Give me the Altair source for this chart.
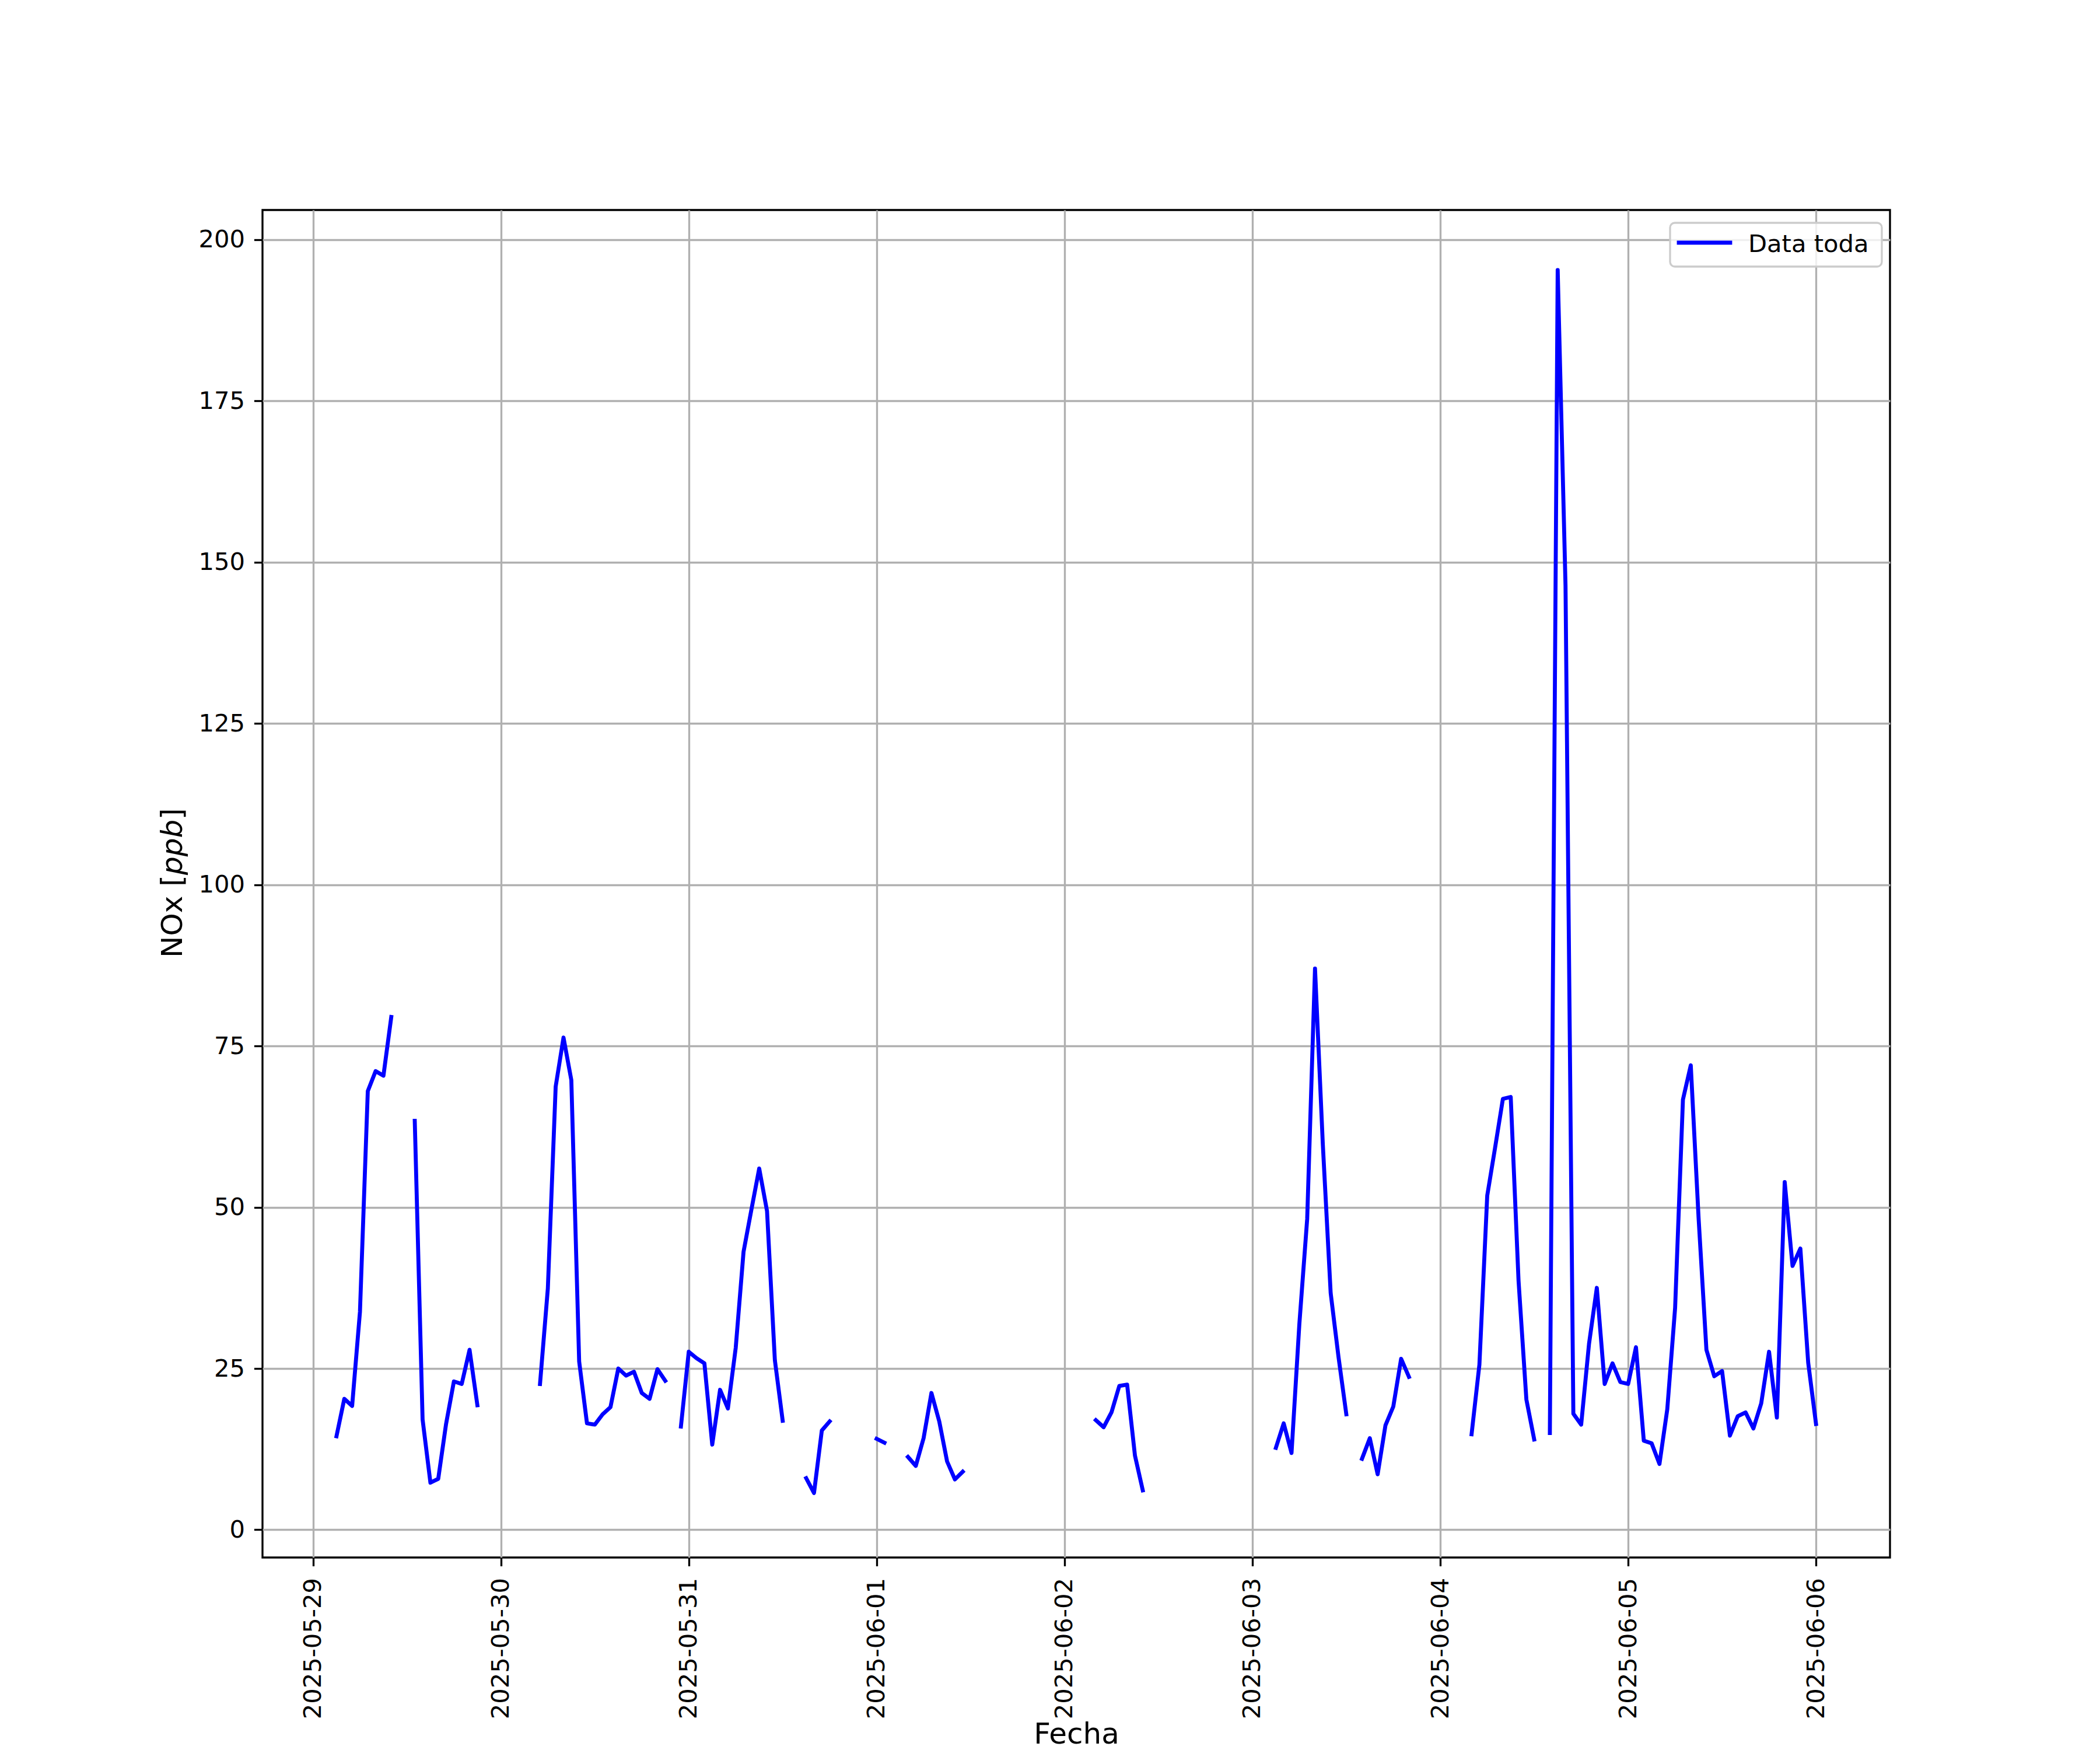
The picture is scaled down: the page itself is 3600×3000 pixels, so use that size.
import altair as alt
import pandas as pd

# ---- data (hourly NOx, ppb; None = missing) ----
dias = ["2025-05-29", "2025-05-30", "2025-05-31", "2025-06-01", "2025-06-02",
        "2025-06-03", "2025-06-04", "2025-06-05", "2025-06-06"]

nox_0529 = [None, None, None, 14.5, 20.3, 19.2, 33.8, 68.0, 71.1, 70.4, 79.5, None,
            None, 63.4, 17.1, 7.3, 7.9, 16.4, 23.0, 22.6, 27.9, 19.3, None, None]
nox_0530 = [None, None, None, None, None, 22.6, 37.4, 68.7, 76.3, 69.7, 26.1, 16.5,
            16.3, 17.9, 19.0, 25.0, 23.9, 24.5, 21.2, 20.3, 24.9, 23.1, None, 16.0]
nox_0531 = [27.6, 26.6, 25.8, 13.2, 21.7, 18.8, 28.2, 43.1, 49.6, 56.0, 49.4, 26.3,
            16.9, None, None, 8.0, 5.7, 15.4, 16.8, None, None, None, None, None]
nox_0601 = [14.1, 13.5, None, None, 11.3, 9.9, 14.2, 21.2, 16.8, 10.6, 7.8, 9.0,
            None, None, None, None, None, None, None, None, None, None, None, None]
nox_0602 = [None, None, None, None, 17.0, 15.9, 18.2, 22.3, 22.5, 11.5, 6.1, None,
            None, None, None, None, None, None, None, None, None, None, None, None]
nox_0603 = [None, None, None, 12.7, 16.5, 11.9, 31.9, 48.2, 87.0, 59.7, 36.7, 26.8,
            17.9, None, 11.0, 14.2, 8.6, 16.2, 19.1, 26.5, 23.7, None, None, None]
nox_0604 = [None, None, None, None, 14.8, 25.6, 51.8, 59.2, 66.8, 67.1, 38.6, 20.2,
            14.0, None, 15.0, 195.3, 146.4, 18.0, 16.3, 28.8, 37.5, 22.6, 25.8, 22.9]
nox_0605 = [22.6, 28.3, 13.8, 13.4, 10.2, 18.7, 34.4, 66.7, 72.0, 48.3, 27.9, 23.8,
            24.6, 14.6, 17.6, 18.2, 15.7, 19.6, 27.6, 17.4, 53.9, 40.9, 43.6, 25.9]
nox_0606 = [16.4]

serie_nombre = "Data toda"
y_ticks = [0, 25, 50, 75, 100, 125, 150, 175, 200]
ylab_partes = ["NOx [", "ppb", "]"]

series_por_dia = [nox_0529, nox_0530, nox_0531, nox_0601, nox_0602,
                  nox_0603, nox_0604, nox_0605, nox_0606]

rows = []
seg = 0
prev_none = True
for dia, vals in zip(dias, series_por_dia):
    for h, v in enumerate(vals):
        if v is None:
            prev_none = True
            continue
        if prev_none:
            seg += 1
            prev_none = False
        rows.append({"fecha": f"{dia}T{h:02d}:00:00", "nox": v, "seg": seg,
                     "serie": serie_nombre})
df = pd.DataFrame(rows)

FONT = "DejaVu Sans"
BLUE = "#0000ff"
LW = 6.8
x_vals = [alt.DateTime(year=int(d[0:4]), month=int(d[5:7]), date=int(d[8:10])) for d in dias]

line = alt.Chart(df).mark_line(
    strokeWidth=LW, strokeCap="square", strokeJoin="round"
).encode(
    x=alt.X(
        "fecha:T",
        scale=alt.Scale(
            domain=[alt.DateTime(year=2025, month=5, date=28, hours=17, minutes=33),
                    alt.DateTime(year=2025, month=6, date=6, hours=9, minutes=27)],
            nice=False,
        ),
        axis=alt.Axis(
            values=x_vals, format="%Y-%m-%d", formatType="time", labelAngle=270,
            labelPadding=20, labelOverlap=False, labelFlush=False, labelLimit=600,
            title="Fecha", titleY=318, titleBaseline="alphabetic",
        ),
    ),
    y=alt.Y(
        "nox:Q",
        scale=alt.Scale(domain=[-4.3, 204.6], nice=False, zero=False),
        axis=alt.Axis(values=y_ticks, title=None, labelPadding=16),
    ),
    color=alt.Color(
        "serie:N",
        scale=alt.Scale(domain=[serie_nombre], range=[BLUE]),
        legend=None,
    ),
    detail="seg:N",
)

one = pd.DataFrame({"t": [serie_nombre]})

# legend (matplotlib-style, upper right)
leg_box = alt.Chart(one).mark_rect(
    cornerRadius=8, fill="white", fillOpacity=0.8, stroke="#cccccc", strokeWidth=3.3
).encode(x=alt.value(2413), x2=alt.value(2776), y=alt.value(22), y2=alt.value(97))
leg_line = alt.Chart(one).mark_rule(
    color=BLUE, strokeWidth=LW, strokeCap="square"
).encode(x=alt.value(2428), x2=alt.value(2516), y=alt.value(56))
leg_text = alt.Chart(one).mark_text(
    align="left", baseline="alphabetic", font=FONT, fontSize=41.67, color="black"
).encode(text="t:N", x=alt.value(2547), y=alt.value(72))


def ytxt(texto, ypos, estilo):
    return alt.Chart(pd.DataFrame({"t": [texto]})).mark_text(
        angle=270, align="left", baseline="alphabetic", font=FONT,
        fontSize=50, color="black", fontStyle=estilo,
    ).encode(text="t:N", x=alt.value(-138), y=alt.value(ypos))


t1 = ytxt(ylab_partes[0], 1282, "normal")
t2 = ytxt(ylab_partes[1], 1140, "italic")
t3 = ytxt(ylab_partes[2], 1045, "normal")

chart = alt.layer(line, leg_box, leg_line, leg_text, t1, t2, t3).properties(
    width=2790, height=2310,
    padding={"left": 442, "top": 352, "right": 352, "bottom": 330},
    autosize=alt.AutoSizeParams(type="none"),
).configure_view(
    stroke="black", strokeWidth=3.33
).configure_axis(
    gridColor="#b0b0b0", gridWidth=3.33, tickColor="black", tickWidth=3.33,
    tickSize=14.58, labelFont=FONT, labelFontSize=41.67, labelColor="black",
    titleFont=FONT, titleFontSize=50, titleFontWeight="normal", titleColor="black",
    domain=False,
)

chart.save("out.html", embed_options={"renderer": "svg", "actions": False})
